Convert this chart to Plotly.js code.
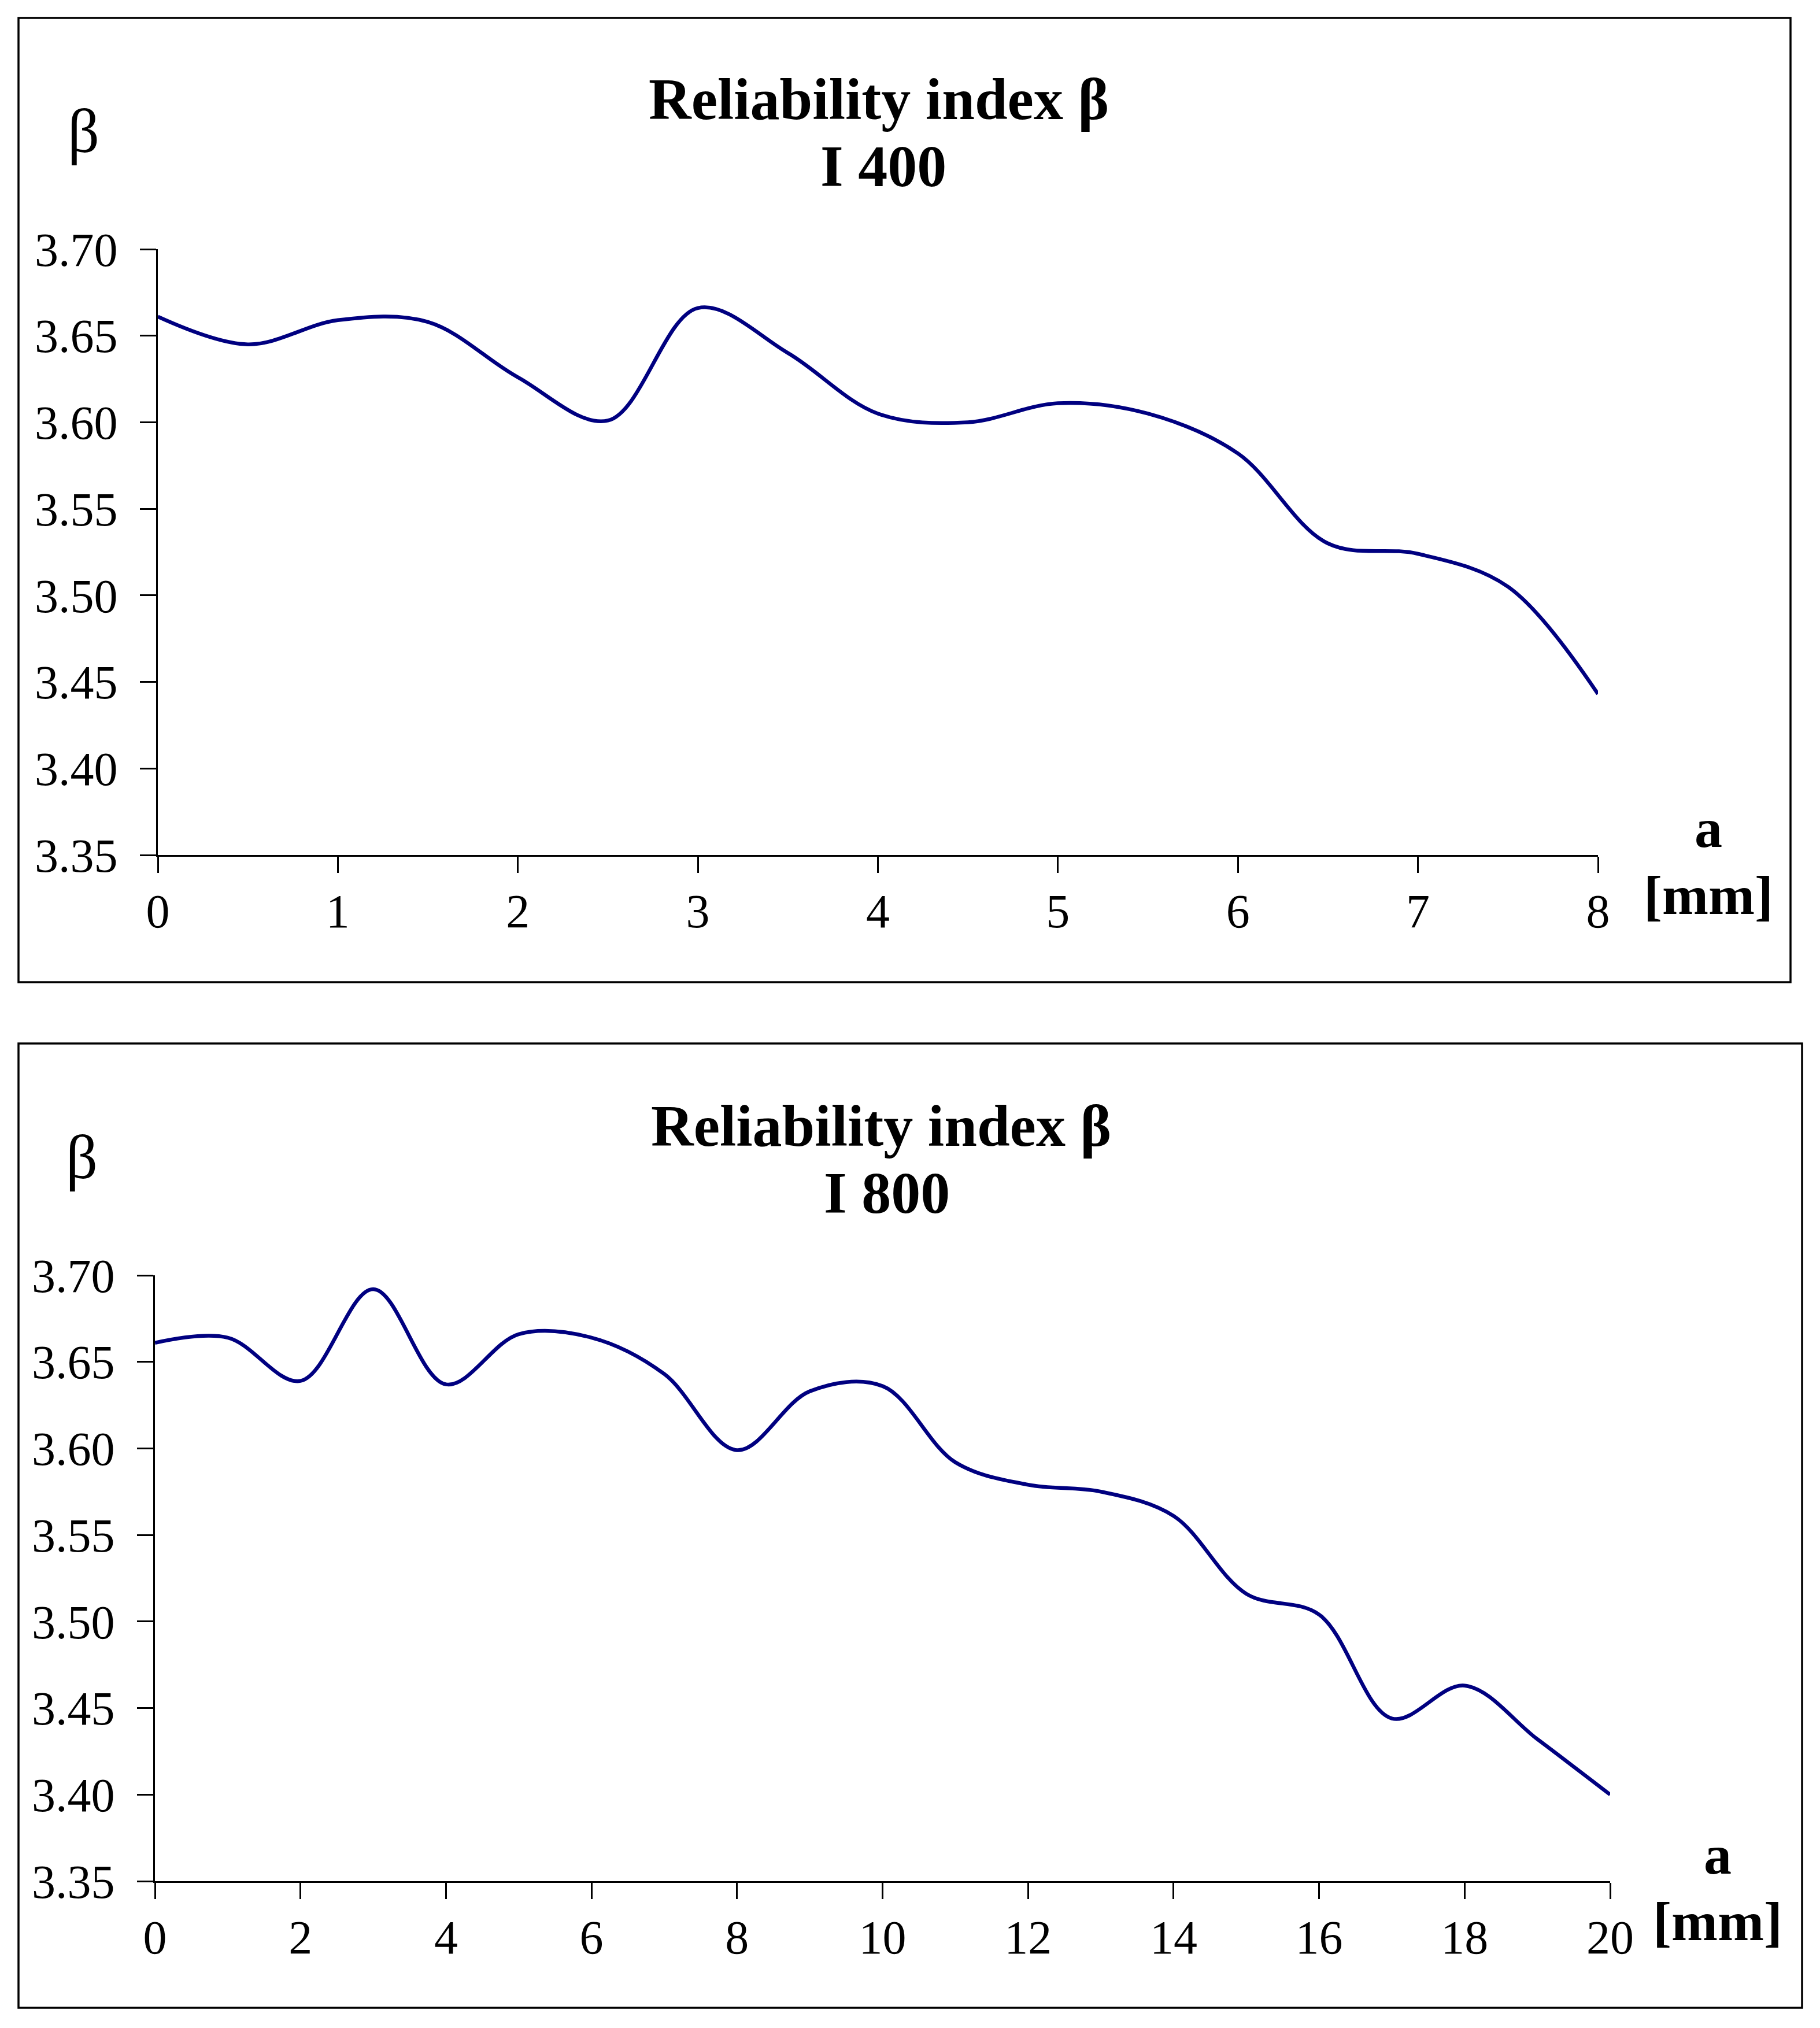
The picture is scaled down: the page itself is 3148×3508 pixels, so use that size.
<!DOCTYPE html>
<html>
<head>
<meta charset="utf-8">
<script src="https://cdn.plot.ly/plotly-3.0.1.min.js"></script>
<style>
  html, body { margin: 0; padding: 0; background: #fff; }
  #chart { width: 3148px; height: 3508px; }
</style>
</head>
<body>
<div id="chart"></div>
<script>
// crack depth a [mm] and reliability index beta
const aI400 = [0, 0.5, 1, 1.5, 2, 2.5, 3, 3.5, 4, 4.5, 5, 5.5, 6, 6.5, 7, 7.5, 8];
const betaI400 = [3.661, 3.645, 3.659, 3.658, 3.626, 3.601, 3.666, 3.640, 3.605, 3.600,
                  3.611, 3.605, 3.582, 3.530, 3.524, 3.505, 3.443];

const aI800 = [0, 1, 2, 3, 4, 5, 6, 7, 8, 9, 10, 11, 12, 13, 14, 15, 16, 17, 18, 19, 20];
const betaI800 = [3.661, 3.664, 3.639, 3.692, 3.637, 3.666, 3.664, 3.643, 3.599, 3.633, 3.636,
                  3.592, 3.579, 3.575, 3.561, 3.516, 3.504, 3.444, 3.463, 3.432, 3.400];

const titleLine1 = 'Reliability index β';
const titlesLine2 = ['I 400', 'I 800'];

const W = 3148, H = 3508;
const FONT = '"Liberation Serif", "Times New Roman", serif';
const NAVY = '#000080';

// pixel helpers -> paper coords
const px = x => x / W;
const py = y => 1 - y / H;

const baseAxis = {
  showgrid: false, zeroline: false, showline: true,
  linecolor: '#000', linewidth: 3,
  ticks: 'outside', ticklen: 28, tickwidth: 3, tickcolor: '#000',
  tickfont: { family: FONT, size: 82, color: '#000' },
  fixedrange: true,
};

const traces = [
  {
    x: aI400, y: betaI400, xaxis: 'x', yaxis: 'y',
    type: 'scatter', mode: 'lines',
    line: { color: NAVY, width: 6.5, shape: 'spline', smoothing: 1 },
    hoverinfo: 'skip',
  },
  {
    x: aI800, y: betaI800, xaxis: 'x2', yaxis: 'y2',
    type: 'scatter', mode: 'lines',
    line: { color: NAVY, width: 6.5, shape: 'spline', smoothing: 1 },
    hoverinfo: 'skip',
  },
];

// panel offsets: second panel is the first one shifted down
const panels = [
  { top: 0, boxRight: 3097, boxBottom: 1699, aX: 2955 },
  { top: 1775, boxRight: 3117, boxBottom: 3473, aX: 2971 },
];

const shapes = [
  { type: 'rect', xref: 'paper', yref: 'paper',
    x0: px(32), x1: px(panels[0].boxRight), y0: py(31), y1: py(panels[0].boxBottom),
    line: { color: '#000', width: 3.5 } },
  { type: 'rect', xref: 'paper', yref: 'paper',
    x0: px(32), x1: px(panels[1].boxRight), y0: py(1805), y1: py(panels[1].boxBottom),
    line: { color: '#000', width: 3.5 } },
];

const annotations = [];
panels.forEach((p, i) => {
  const t = p.top;
  annotations.push(
    { text: '<b>' + titleLine1 + '</b>', x: px(1520 + i * 4), y: py(172 + t),
      font: { family: FONT, size: 102, color: '#000' } },
    { text: '<b>' + titlesLine2[i] + '</b>', x: px(1528 + i * 6), y: py(288 + t),
      font: { family: FONT, size: 102, color: '#000' } },
    { text: 'β', x: px(144 - i * 3), y: py(226 + t),
      font: { family: FONT, size: 108, color: '#000' } },
    { text: '<b>a</b>', x: px(p.aX), y: py(1433 + t),
      font: { family: FONT, size: 96, color: '#000' } },
    { text: '<b>[mm]</b>', x: px(p.aX), y: py(1548 + t),
      font: { family: FONT, size: 96, color: '#000' } },
  );
});
annotations.forEach(a => {
  a.xref = 'paper'; a.yref = 'paper';
  a.xanchor = 'center'; a.yanchor = 'middle';
  a.showarrow = false;
});

const layout = {
  width: W, height: H,
  margin: { l: 0, r: 0, t: 0, b: 0 },
  paper_bgcolor: '#fff', plot_bgcolor: '#fff',
  showlegend: false,
  xaxis: Object.assign({}, baseAxis, {
    domain: [px(273), px(2764)], anchor: 'y',
    range: [0, 8], tickmode: 'linear', tick0: 0, dtick: 1,
    ticklabelstandoff: -4,
  }),
  yaxis: Object.assign({}, baseAxis, {
    domain: [py(1479), py(431)], anchor: 'x',
    range: [3.35, 3.70], tickmode: 'linear', tick0: 3.35, dtick: 0.05,
    tickformat: '.2f', ticklabelstandoff: 22,
  }),
  xaxis2: Object.assign({}, baseAxis, {
    domain: [px(268), px(2785)], anchor: 'y2',
    range: [0, 20], tickmode: 'linear', tick0: 0, dtick: 2,
    ticklabelstandoff: -4,
  }),
  yaxis2: Object.assign({}, baseAxis, {
    domain: [py(3254), py(2206)], anchor: 'x2',
    range: [3.35, 3.70], tickmode: 'linear', tick0: 3.35, dtick: 0.05,
    tickformat: '.2f', ticklabelstandoff: 22,
  }),
  shapes, annotations,
};

Plotly.newPlot('chart', traces, layout, { displayModeBar: false, staticPlot: true });
</script>
</body>
</html>
